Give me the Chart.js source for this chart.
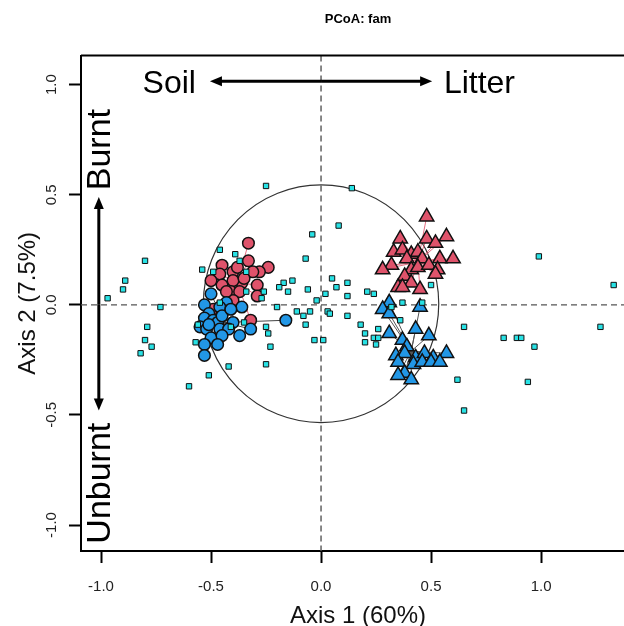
<!DOCTYPE html>
<html>
<head>
<meta charset="utf-8">
<script src="https://cdn.jsdelivr.net/npm/chart.js@4.4.1/dist/chart.umd.min.js"></script>
<style>
  html, body { margin: 0; padding: 0; background: #ffffff; overflow: hidden; }
  #caja { width: 650px; height: 626px; }
</style>
</head>
<body>
<div id="caja"><canvas id="graficoPcoa" width="650" height="626"></canvas></div>
<script>
const FUENTE = "'Liberation Sans', Arial, Helvetica, sans-serif";

// muestras de suelo (circulos) y hojarasca (triangulos), coordenadas PCoA
const SUELO_QUEMADO = [
  [-0.33, 0.28], [-0.24, 0.17], [-0.45, 0.18], [-0.40, 0.15], [-0.33, 0.20],
  [-0.28, 0.15], [-0.31, 0.15], [-0.46, 0.14], [-0.50, 0.11], [-0.36, 0.10],
  [-0.40, 0.11], [-0.45, 0.09], [-0.29, 0.09], [-0.41, 0.06], [-0.37, 0.06],
  [-0.29, 0.04], [-0.40, 0.02], [-0.49, -0.02], [-0.45, -0.04], [-0.32, -0.07],
  [-0.38, 0.17], [-0.35, 0.12], [-0.43, 0.06],
];

const SUELO_NO_QUEMADO = [
  [-0.50, 0.05], [-0.53, 0.00], [-0.43, 0.01], [-0.36, -0.01], [-0.46, -0.01],
  [-0.51, -0.04], [-0.53, -0.06], [-0.49, -0.07], [-0.47, -0.08], [-0.45, -0.05],
  [-0.40, -0.08], [-0.55, -0.10], [-0.52, -0.11], [-0.46, -0.11], [-0.42, -0.11],
  [-0.50, -0.15], [-0.45, -0.14], [-0.37, -0.14], [-0.53, -0.18], [-0.47, -0.18],
  [-0.53, -0.23], [-0.32, -0.11], [-0.16, -0.07], [-0.51, -0.09], [-0.41, -0.02],
];

const HOJARASCA_QUEMADA = [
  [0.48, 0.40], [0.36, 0.30], [0.48, 0.30], [0.57, 0.31], [0.52, 0.28],
  [0.33, 0.24], [0.37, 0.25], [0.41, 0.23], [0.44, 0.24], [0.39, 0.21],
  [0.46, 0.21], [0.54, 0.21], [0.60, 0.21], [0.32, 0.18], [0.28, 0.16],
  [0.41, 0.16], [0.44, 0.17], [0.49, 0.18], [0.53, 0.16], [0.52, 0.14],
  [0.38, 0.13], [0.35, 0.08], [0.41, 0.10], [0.45, 0.07], [0.37, 0.08],
];

const HOJARASCA_NO_QUEMADA = [
  [0.31, 0.01], [0.28, -0.02], [0.31, -0.04], [0.45, -0.01], [0.43, -0.11],
  [0.49, -0.14], [0.31, -0.13], [0.37, -0.16], [0.39, -0.19], [0.34, -0.23],
  [0.38, -0.22], [0.43, -0.24], [0.47, -0.22], [0.51, -0.24], [0.57, -0.22],
  [0.35, -0.26], [0.42, -0.27], [0.46, -0.26], [0.50, -0.26], [0.54, -0.26],
  [0.38, -0.31], [0.35, -0.32], [0.41, -0.34],
];

// familias (cuadrados)
const FAMILIAS = [
  [-0.80, 0.20], [-0.89, 0.11], [-0.90, 0.07], [-0.97, 0.03], [-0.73, -0.01],
  [-0.79, -0.10], [-0.80, -0.16], [-0.77, -0.19], [-0.82, -0.22], [-0.54, 0.16],
  [-0.57, -0.17], [-0.60, -0.37], [-0.56, -0.09], [-0.51, -0.32], [-0.25, 0.54],
  [0.14, 0.53], [0.08, 0.36], [-0.04, 0.32], [-0.46, 0.25], [-0.39, 0.23],
  [-0.37, 0.20], [-0.07, 0.21], [-0.34, 0.15], [-0.49, 0.15], [-0.13, 0.11],
  [-0.17, 0.10], [-0.19, 0.08], [-0.15, 0.06], [-0.06, 0.07], [0.05, 0.12],
  [0.07, 0.08], [0.12, 0.10], [0.02, 0.05], [-0.02, 0.02], [0.12, 0.04],
  [-0.26, 0.06], [-0.34, 0.06], [-0.27, 0.03], [-0.46, 0.01], [-0.20, -0.01],
  [-0.11, -0.03], [-0.08, -0.05], [-0.05, -0.03], [0.03, -0.03], [0.04, -0.04],
  [0.12, -0.05], [-0.07, -0.09], [-0.25, -0.10], [-0.24, -0.13], [-0.41, -0.10],
  [-0.35, -0.08], [-0.03, -0.16], [0.01, -0.16], [-0.23, -0.19], [-0.25, -0.27],
  [-0.42, -0.28], [0.21, 0.06], [0.24, 0.05], [0.37, 0.01], [0.46, 0.01],
  [0.50, 0.09], [0.32, -0.01], [0.36, -0.07], [0.18, -0.09], [0.20, -0.13],
  [0.26, -0.11], [0.24, -0.15], [0.26, -0.15], [0.20, -0.17], [0.25, -0.18],
  [0.65, -0.10], [0.62, -0.34], [0.99, 0.22], [1.33, 0.09], [1.27, -0.10],
  [0.83, -0.15], [0.89, -0.15], [0.91, -0.15], [0.97, -0.19], [0.94, -0.35],
  [0.65, -0.48],
];

// centroides de cada grupo (de donde salen las lineas)
const CENTRO_SUELO_QUEMADO = [-0.38, 0.10];
const CENTRO_SUELO_NO_QUEMADO = [-0.44, -0.08];
const CENTRO_HOJARASCA_QUEMADA = [0.44, 0.195];
const CENTRO_HOJARASCA_NO_QUEMADA = [0.41, -0.21];

const ELIPSE = { centro: [0, 0.005], radioX: 0.535, radioY: 0.54 };

const TICKS_X = [-1.0, -0.5, 0.0, 0.5, 1.0];
const TICKS_Y = [-1.0, -0.5, 0.0, 0.5, 1.0];

const ROJO = "#DF536B";
const AZUL = "#2297E6";
const CIAN = "#28E2E5";

const aPuntos = (lista) => lista.map(([x, y]) => ({ x, y }));

const grupos = [
  { puntos: SUELO_QUEMADO, centro: CENTRO_SUELO_QUEMADO, color: "rgba(223, 83, 107, 0.85)" },
  { puntos: HOJARASCA_QUEMADA, centro: CENTRO_HOJARASCA_QUEMADA, color: "rgba(223, 83, 107, 0.85)" },
  { puntos: SUELO_NO_QUEMADO, centro: CENTRO_SUELO_NO_QUEMADO, color: "#444444" },
  { puntos: HOJARASCA_NO_QUEMADA, centro: CENTRO_HOJARASCA_NO_QUEMADA, color: "#555555" },
];

const flecha = (ctx, x0, y0, x1, y1) => {
  const ang = Math.atan2(y1 - y0, x1 - x0);
  const largo = 12;
  const ancho = 5;
  ctx.beginPath();
  ctx.moveTo(x0, y0);
  ctx.lineTo(x1 - Math.cos(ang) * largo * 0.8, y1 - Math.sin(ang) * largo * 0.8);
  ctx.stroke();
  ctx.beginPath();
  ctx.moveTo(x1, y1);
  ctx.lineTo(x1 - Math.cos(ang) * largo - Math.sin(ang) * ancho, y1 - Math.sin(ang) * largo + Math.cos(ang) * ancho);
  ctx.lineTo(x1 - Math.cos(ang) * largo + Math.sin(ang) * ancho, y1 - Math.sin(ang) * largo - Math.cos(ang) * ancho);
  ctx.closePath();
  ctx.fill();
};

const pluginDecoracion = {
  id: "decoracionPcoa",
  beforeDatasetsDraw(chart) {
    const { ctx, chartArea: area, scales: { x, y } } = chart;
    ctx.save();
    ctx.beginPath();
    ctx.rect(area.left, area.top, area.right - area.left, area.bottom - area.top);
    ctx.clip();

    // ejes en cero
    ctx.strokeStyle = "#555555";
    ctx.lineWidth = 1.4;
    ctx.setLineDash([6, 4]);
    ctx.beginPath();
    ctx.moveTo(x.getPixelForValue(0), area.top);
    ctx.lineTo(x.getPixelForValue(0), area.bottom);
    ctx.moveTo(area.left, y.getPixelForValue(0));
    ctx.lineTo(area.right, y.getPixelForValue(0));
    ctx.stroke();
    ctx.setLineDash([]);

    // circulo de contribucion
    const cx = x.getPixelForValue(ELIPSE.centro[0]);
    const cy = y.getPixelForValue(ELIPSE.centro[1]);
    const rx = x.getPixelForValue(ELIPSE.centro[0] + ELIPSE.radioX) - cx;
    const ry = cy - y.getPixelForValue(ELIPSE.centro[1] + ELIPSE.radioY);
    ctx.strokeStyle = "#333333";
    ctx.lineWidth = 1.2;
    ctx.beginPath();
    ctx.ellipse(cx, cy, rx, ry, 0, 0, Math.PI * 2);
    ctx.stroke();

    // lineas de cada muestra a su centroide
    ctx.lineWidth = 1;
    grupos.forEach((grupo) => {
      const px = x.getPixelForValue(grupo.centro[0]);
      const py = y.getPixelForValue(grupo.centro[1]);
      ctx.strokeStyle = grupo.color;
      ctx.beginPath();
      grupo.puntos.forEach(([vx, vy]) => {
        ctx.moveTo(px, py);
        ctx.lineTo(x.getPixelForValue(vx), y.getPixelForValue(vy));
      });
      ctx.stroke();
    });
    ctx.restore();
  },
  afterDatasetsDraw(chart) {
    const { ctx, chartArea: area, scales: { x, y } } = chart;
    ctx.save();
    ctx.fillStyle = "#000000";
    ctx.strokeStyle = "#000000";
    ctx.lineWidth = 3;

    const yFlecha = y.getPixelForValue(1.015);
    flecha(ctx, x.getPixelForValue(0), yFlecha, x.getPixelForValue(-0.505), yFlecha);
    flecha(ctx, x.getPixelForValue(0), yFlecha, x.getPixelForValue(0.505), yFlecha);

    const xFlecha = x.getPixelForValue(-1.01);
    flecha(ctx, xFlecha, y.getPixelForValue(0), xFlecha, y.getPixelForValue(0.49));
    flecha(ctx, xFlecha, y.getPixelForValue(0), xFlecha, y.getPixelForValue(-0.48));

    ctx.font = `32px ${FUENTE}`;
    ctx.textAlign = "center";
    ctx.textBaseline = "middle";
    ctx.fillText("Soil", x.getPixelForValue(-0.69), y.getPixelForValue(1.0));
    ctx.fillText("Litter", x.getPixelForValue(0.72), y.getPixelForValue(1.0));

    ctx.font = `34px ${FUENTE}`;
    [["Burnt", 0.705], ["Unburnt", -0.81]].forEach(([texto, valor]) => {
      ctx.save();
      ctx.translate(x.getPixelForValue(-1.0), y.getPixelForValue(valor));
      ctx.rotate(-Math.PI / 2);
      ctx.fillText(texto, 0, 0);
      ctx.restore();
    });

    // marco superior
    ctx.lineWidth = 2;
    ctx.beginPath();
    ctx.moveTo(area.left, area.top);
    ctx.lineTo(area.right, area.top);
    ctx.lineTo(area.right, area.bottom);
    ctx.stroke();

    // etiquetas del eje y giradas como en R
    ctx.fillStyle = "#222222";
    ctx.font = `15px ${FUENTE}`;
    TICKS_Y.forEach((valor) => {
      ctx.save();
      ctx.translate(52, y.getPixelForValue(valor));
      ctx.rotate(-Math.PI / 2);
      ctx.fillText(valor.toFixed(1), 0, 0);
      ctx.restore();
    });
    ctx.restore();
  },
};

new Chart(document.getElementById("graficoPcoa"), {
  type: "scatter",
  data: {
    datasets: [
      {
        label: "Familias",
        data: aPuntos(FAMILIAS),
        pointStyle: "rect",
        pointRadius: 3.8,
        backgroundColor: CIAN,
        borderColor: "#111111",
        borderWidth: 1,
        order: 0,
      },
      {
        label: "Suelo no quemado",
        data: aPuntos(SUELO_NO_QUEMADO),
        pointStyle: "circle",
        pointRadius: 5.8,
        backgroundColor: AZUL,
        borderColor: "#111111",
        borderWidth: 1.5,
        order: 1,
      },
      {
        label: "Hojarasca no quemada",
        data: aPuntos(HOJARASCA_NO_QUEMADA),
        pointStyle: "triangle",
        pointRadius: 8.3,
        backgroundColor: AZUL,
        borderColor: "#111111",
        borderWidth: 1.5,
        order: 2,
      },
      {
        label: "Suelo quemado",
        data: aPuntos(SUELO_QUEMADO),
        pointStyle: "circle",
        pointRadius: 5.8,
        backgroundColor: ROJO,
        borderColor: "#111111",
        borderWidth: 1.5,
        order: 3,
      },
      {
        label: "Hojarasca quemada",
        data: aPuntos(HOJARASCA_QUEMADA),
        pointStyle: "triangle",
        pointRadius: 8.3,
        backgroundColor: ROJO,
        borderColor: "#111111",
        borderWidth: 1.5,
        order: 4,
      },
    ],
  },
  options: {
    responsive: false,
    animation: false,
    layout: { padding: { right: 15 } },
    plugins: {
      legend: { display: false },
      tooltip: { enabled: false },
      title: {
        display: true,
        text: "PCoA: fam",
        fullSize: false,
        color: "#000000",
        font: { family: FUENTE, size: 13, weight: "bold" },
        padding: { top: 12, bottom: 28 },
      },
    },
    scales: {
      x: {
        type: "linear",
        min: -1.091,
        max: 1.427,
        afterBuildTicks: (escala) => {
          escala.ticks = TICKS_X.map((valor) => ({ value: valor }));
        },
        afterFit: (escala) => {
          escala.height = 75;
        },
        ticks: {
          color: "#222222",
          font: { family: FUENTE, size: 15 },
          padding: 15,
          maxRotation: 0,
          callback: (valor) => Number(valor).toFixed(1),
        },
        grid: {
          drawOnChartArea: false,
          drawTicks: true,
          tickLength: 12,
          tickWidth: 2,
          tickColor: "#000000",
        },
        border: { display: true, color: "#000000", width: 2 },
        title: {
          display: true,
          text: "Axis 1 (60%)",
          color: "#111111",
          font: { family: FUENTE, size: 24, lineHeight: 0.8 },
          padding: { top: 0, bottom: 0 },
        },
      },
      y: {
        type: "linear",
        min: -1.118,
        max: 1.132,
        afterBuildTicks: (escala) => {
          escala.ticks = TICKS_Y.map((valor) => ({ value: valor }));
        },
        afterFit: (escala) => {
          escala.width = 81;
        },
        ticks: { display: false },
        grid: {
          drawOnChartArea: false,
          drawTicks: true,
          tickLength: 12,
          tickWidth: 2,
          tickColor: "#000000",
        },
        border: { display: true, color: "#000000", width: 2 },
        title: {
          display: true,
          text: "Axis 2 (7.5%)",
          color: "#111111",
          font: { family: FUENTE, size: 24, lineHeight: 1 },
          padding: { top: 16, bottom: 0 },
        },
      },
    },
  },
  plugins: [pluginDecoracion],
});
</script>
</body>
</html>
